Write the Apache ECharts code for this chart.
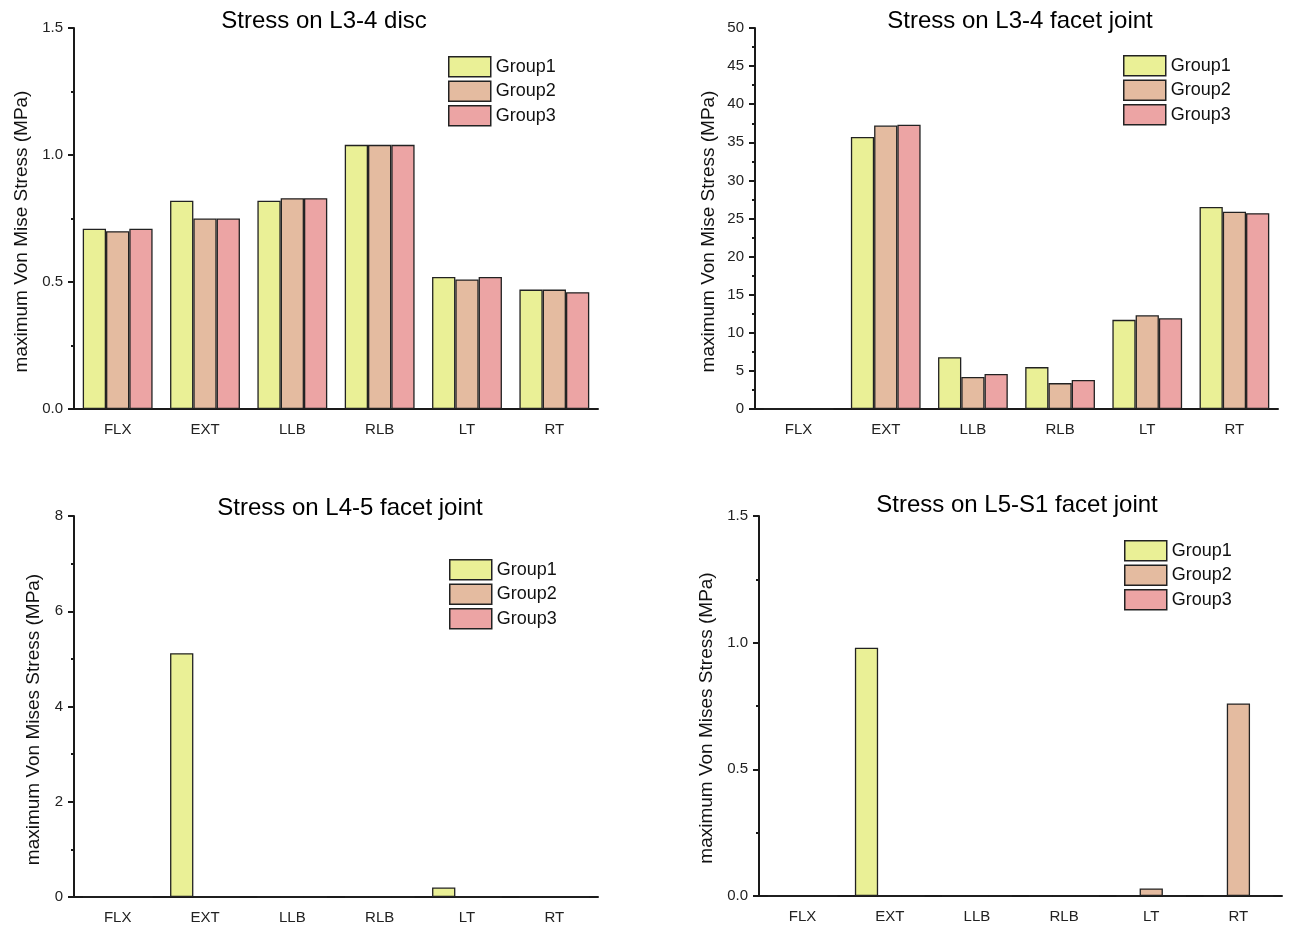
<!DOCTYPE html>
<html>
<head>
<meta charset="utf-8">
<script src="https://cdn.jsdelivr.net/npm/echarts@6/dist/echarts.min.js"></script>
<style>
html,body{margin:0;padding:0;background:#fff;}
#chart{width:1289px;height:930px;}
</style>
</head>
<body>
<div id="chart"></div>
<script>
const categories = ['FLX', 'EXT', 'LLB', 'RLB', 'LT', 'RT'];
const groupNames = ['Group1', 'Group2', 'Group3'];

const titles = ['Stress on L3-4 disc', 'Stress on L3-4 facet joint', 'Stress on L4-5 facet joint', 'Stress on L5-S1 facet joint'];
const yNames = ['maximum Von Mise Stress (MPa)', 'maximum Von Mise Stress (MPa)', 'maximum Von Mises Stress (MPa)', 'maximum Von Mises Stress (MPa)'];

// Chart 1: L3-4 disc
const discG1 = [0.71, 0.82, 0.82, 1.04, 0.52, 0.47];
const discG2 = [0.70, 0.75, 0.83, 1.04, 0.51, 0.47];
const discG3 = [0.71, 0.75, 0.83, 1.04, 0.52, 0.46];
// Chart 2: L3-4 facet joint
const f34G1 = [0, 35.7, 6.8, 5.5, 11.7, 26.5];
const f34G2 = [0, 37.2, 4.2, 3.4, 12.3, 25.9];
const f34G3 = [0, 37.3, 4.6, 3.8, 11.9, 25.7];
// Chart 3: L4-5 facet joint
const f45G1 = [0, 5.12, 0, 0, 0.2, 0];
const f45G2 = [0, 0, 0, 0, 0, 0];
const f45G3 = [0, 0, 0, 0, 0, 0];
// Chart 4: L5-S1 facet joint
const f51G1 = [0, 0.98, 0, 0, 0, 0];
const f51G2 = [0, 0, 0, 0, 0.03, 0.76];
const f51G3 = [0, 0, 0, 0, 0, 0];

const yMax = [1.5, 50, 8, 1.5];
const yInterval = [0.5, 5, 2, 0.5];
const yDecimals = [1, 0, 0, 1];

const seriesData = [
  [discG1, discG2, discG3],
  [f34G1, f34G2, f34G3],
  [f45G1, f45G2, f45G3],
  [f51G1, f51G2, f51G3]
];

const colors = ['#EAF096', '#E4BBA0', '#ECA4A4'];
const ink = '#1a1a1a';
const font = 'Liberation Sans, Arial, sans-serif';

// layout
const grids = [
  { left: 74, top: 28, width: 524, height: 381 },
  { left: 755, top: 28, width: 523, height: 381 },
  { left: 74, top: 516, width: 524, height: 381 },
  { left: 759, top: 516, width: 523, height: 380 }
];
const titlePos = [
  { left: 324, top: 9 },
  { left: 1020, top: 9 },
  { left: 350, top: 496 },
  { left: 1017, top: 493 }
];
const legendPos = [
  { left: 448, top: 56 },
  { left: 1123, top: 55 },
  { left: 449, top: 559 },
  { left: 1124, top: 540 }
];
const nameGaps = [43, 37, 31, 43];
const namePads = [[0, 26, 0, 0], [0, 26, 0, 0], [0, 26, 0, 0], [0, 24, 0, 0]];

const option = {
  animation: false,
  textStyle: { fontFamily: font },
  title: titles.map((t, i) => ({
    text: t,
    left: titlePos[i].left,
    top: titlePos[i].top,
    textAlign: 'center',
    padding: 0,
    textStyle: { fontSize: 24, fontWeight: 'normal', color: '#000', fontFamily: font }
  })),
  legend: legendPos.map((p, i) => ({
    data: groupNames,
    orient: 'vertical',
    left: p.left,
    top: p.top,
    padding: 0,
    itemWidth: 42,
    itemHeight: 20,
    itemGap: 3,
    icon: 'rect',
    selectedMode: false,
    itemStyle: { borderColor: '#222', borderWidth: 1.5 },
    textStyle: { fontSize: 18, color: '#111', fontFamily: font, padding: [0, 0, 0, 0] }
  })),
  grid: grids.map(g => Object.assign({ containLabel: false }, g)),
  xAxis: grids.map((g, i) => ({
    type: 'category',
    gridIndex: i,
    data: categories,
    axisLine: { lineStyle: { color: ink, width: 2 } },
    axisTick: { alignWithLabel: true, length: 7, lineStyle: { color: ink, width: 2 } },
    axisLabel: { fontSize: 15, color: '#222', margin: 13, fontFamily: font },
    splitLine: { show: false }
  })),
  yAxis: grids.map((g, i) => ({
    type: 'value',
    gridIndex: i,
    min: 0,
    max: yMax[i],
    interval: yInterval[i],
    name: yNames[i],
    nameLocation: 'middle',
    nameRotate: 90,
    nameGap: nameGaps[i],
    nameTextStyle: { fontSize: 19, color: '#111', fontFamily: font, padding: namePads[i] },
    axisLine: { show: true, lineStyle: { color: ink, width: 2 } },
    axisTick: { show: true, length: 6, lineStyle: { color: ink, width: 2 } },
    minorTick: { show: true, splitNumber: 2, length: 3, lineStyle: { color: ink, width: 2 } },
    axisLabel: {
      fontSize: 15, color: '#222', margin: 11, fontFamily: font,
      formatter: v => v.toFixed(yDecimals[i])
    },
    splitLine: { show: false },
    minorSplitLine: { show: false }
  })),
  series: []
};

seriesData.forEach((groups, ci) => {
  groups.forEach((vals, gi) => {
    option.series.push({
      type: 'bar',
      name: groupNames[gi],
      xAxisIndex: ci,
      yAxisIndex: ci,
      data: vals,
      barGap: '0%',
      barCategoryGap: '20%',
      itemStyle: { color: colors[gi], borderColor: '#222', borderWidth: 1.3 },
      emphasis: { disabled: true }
    });
  });
});

const chart = echarts.init(document.getElementById('chart'), null, { renderer: 'canvas' });
chart.setOption(option);
</script>
</body>
</html>
